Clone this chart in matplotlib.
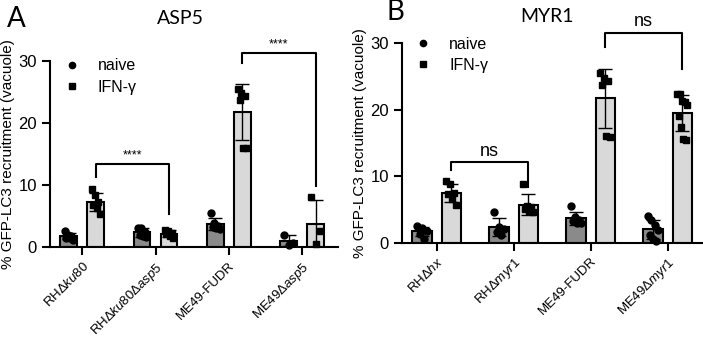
"""
GFP-LC3 recruitment to the vacuole, ASP5 and MYR1 mutants.
"""
import numpy as np
import matplotlib.pyplot as plt
from matplotlib.lines import Line2D

plt.rcParams["font.family"] = ["Liberation Sans", "DejaVu Sans"]
plt.rcParams["mathtext.fontset"] = "custom"
plt.rcParams["mathtext.rm"] = "Liberation Sans"
plt.rcParams["mathtext.it"] = "Liberation Sans:italic"

# panel A: ASP5
asp5_strains = ["RHΔ$\\mathit{ku80}$", "RHΔ$\\mathit{ku80}$Δ$\\mathit{asp5}$",
                "ME49-FUDR", "ME49Δ$\\mathit{asp5}$"]
asp5_naive = [
    [2.6, 2.0, 1.7, 1.5, 1.4, 1.2],
    [3.1, 3.1, 2.4, 2.0, 1.8, 1.6],
    [5.5, 3.8, 3.4, 3.2, 3.0, 2.9],
    [2.0, 0.7, 0.4],
]
asp5_ifng = [
    [9.4, 8.4, 7.2, 6.8, 6.2, 5.3],
    [2.8, 2.6, 2.3, 2.1, 1.8, 1.4],
    [25.5, 24.8, 24.3, 23.7, 16.0, 15.9],
    [8.0, 2.6, 0.5],
]

# panel B: MYR1
myr1_strains = ["RHΔ$\\mathit{hx}$", "RHΔ$\\mathit{myr1}$", "ME49-FUDR", "ME49Δ$\\mathit{myr1}$"]
myr1_naive = [
    [2.5, 2.2, 1.7, 1.3, 0.6],
    [4.6, 2.4, 2.0, 1.6, 1.2],
    [5.5, 3.8, 3.4, 3.2, 3.0, 2.9],
    [4.0, 3.4, 2.6, 1.9, 1.1, 0.6, 0.3],
]
myr1_ifng = [
    [9.2, 8.8, 7.5, 7.3, 6.5, 5.6],
    [8.8, 5.5, 5.3, 5.0, 4.8, 4.6],
    [25.5, 24.8, 24.3, 23.7, 16.0, 15.9],
    [22.4, 22.3, 21.3, 21.1, 20.7, 19.1, 17.4, 15.6, 15.4],
]

# significance brackets: (group a, group b, top, left leg end, right leg end, label)
asp5_brackets = [(0, 1, 13.4, 11.3, 5.3, "****"), (2, 3, 31.3, 29.6, 9.8, "****")]
myr1_brackets = [(0, 1, 12.1, 10.9, 8.4, "ns"), (2, 3, 31.6, 29.4, 26.1, "ns")]

NAIVE_COLOR = "#8a8a8a"
IFNG_COLOR = "#d9d9d9"


def spread(n, width):
    """Deterministic horizontal spread for the dots inside a bar."""
    order = np.argsort(np.arange(n) % 2 * n + np.arange(n))
    offs = np.linspace(-width, width, n)
    return offs[order]


def draw_panel(ax, strains, naive, ifng, brackets, bar_w, off, xlim, legend_at):
    x = np.arange(len(strains))
    for data, sign, color, marker in [(naive, -1, NAIVE_COLOR, "o"), (ifng, 1, IFNG_COLOR, "s")]:
        means = [np.mean(d) for d in data]
        sds = [np.std(d, ddof=1) for d in data]
        xs = x + sign * off
        ax.bar(xs, means, width=bar_w, color=color, edgecolor="black", linewidth=1.5, zorder=2)
        for xi, d in zip(xs, data):
            ax.plot(xi + spread(len(d), bar_w * 0.25), d, linestyle="none", marker=marker,
                    color="black", markersize=5, zorder=3, clip_on=False)
        ax.errorbar(xs, means, yerr=sds, fmt="none", ecolor="black", elinewidth=1,
                    capsize=5, capthick=1, zorder=4)

    for a, b, top, ya, yb, label in brackets:
        xa, xb = x[a] + off, x[b] + off
        ax.plot([xa, xa, xb, xb], [ya, top, top, yb], color="black", lw=1.5,
                clip_on=False, zorder=5)
        fs = 9 if label.startswith("*") else 13
        ax.text((xa + xb) / 2, top + 0.4, label, ha="center", va="bottom", fontsize=fs)

    ax.set_xlim(*xlim)
    ax.set_ylim(0, 30)
    ax.set_yticks([0, 10, 20, 30])
    ax.set_xticks(x)
    ax.set_xticklabels(strains, rotation=45, ha="right", rotation_mode="anchor",
                       fontsize=9.5)
    ax.tick_params(axis="both", width=1.5, length=6, labelsize=12)
    ax.tick_params(axis="x", labelsize=9.5, pad=3)
    for side in ["top", "right"]:
        ax.spines[side].set_visible(False)
    for side in ["left", "bottom"]:
        ax.spines[side].set_linewidth(1.5)
    ax.set_ylabel("% GFP-LC3 recruitment (vacuole)", fontsize=11, labelpad=2)

    handles = [
        Line2D([], [], linestyle="none", marker="o", color="black", markersize=4.5),
        Line2D([], [], linestyle="none", marker="s", color="black", markersize=4.5),
    ]
    ax.legend(handles, ["naive", "IFN-γ"], loc="upper left", bbox_to_anchor=legend_at,
              frameon=False, fontsize=11.5, handletextpad=1.1, labelspacing=0.4,
              handlelength=1.0, borderpad=0, borderaxespad=0)


fig = plt.figure(figsize=(7.03, 3.37), dpi=100)
ax_a = fig.add_axes([0.0711, 0.2671, 0.4097, 0.5528])
ax_b = fig.add_axes([0.5718, 0.2804, 0.4272, 0.5911])

draw_panel(ax_a, asp5_strains, asp5_naive, asp5_ifng, asp5_brackets,
           0.23, 0.184, (-0.44, 3.49), (0.05, 1.012))
draw_panel(ax_b, myr1_strains, myr1_naive, myr1_ifng, myr1_brackets,
           0.25, 0.19, (-0.45, 3.45), (0.045, 1.034))

title_font = ["Lato", "DejaVu Sans"]
fig.text(0.023, 0.945, "A", fontsize=20, family=title_font, va="center", ha="center")
fig.text(0.256, 0.945, "ASP5", fontsize=14, family=title_font, va="center", ha="center")
fig.text(0.562, 0.965, "B", fontsize=20, family=title_font, va="center", ha="center")
fig.text(0.778, 0.95, "MYR1", fontsize=14, family=title_font, va="center", ha="center")

fig.savefig("out.png", dpi=100)
